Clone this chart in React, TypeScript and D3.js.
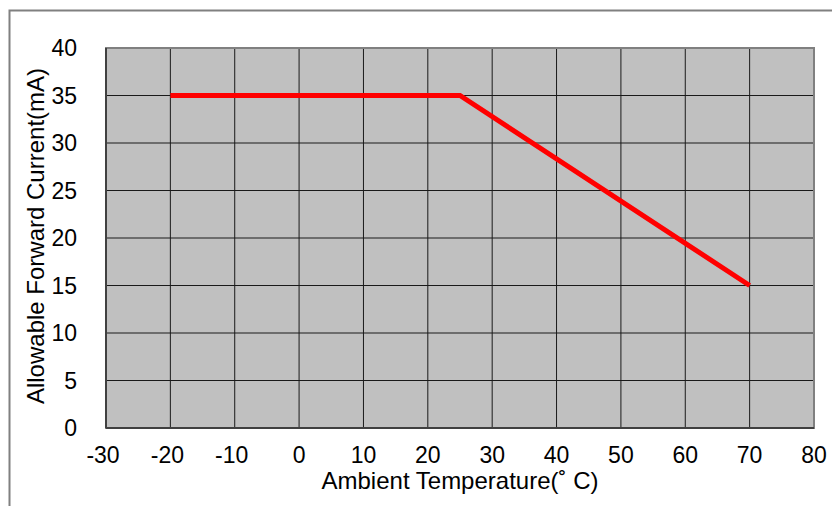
import * as d3 from "d3";
import { useEffect } from "react";

const WIDTH = 832;
const HEIGHT = 506;
const MARGIN = { top: 48, right: 18, bottom: 78, left: 106 };

const X_TICKS = [-30, -20, -10, 0, 10, 20, 30, 40, 50, 60, 70, 80];
const Y_TICKS = [0, 5, 10, 15, 20, 25, 30, 35, 40];

// derating curve: temperature (°C) vs allowable current (mA)
const TEMPS = [-20, 25, 70];
const CURRENTS = [35, 35, 15];

const FONT = "Arial, 'Liberation Sans', sans-serif";

export default function App() {
  useEffect(() => {
    document.body.style.margin = "0";
  }, []);

  const innerWidth = WIDTH - MARGIN.left - MARGIN.right;
  const innerHeight = HEIGHT - MARGIN.top - MARGIN.bottom;

  const x = d3.scaleLinear().domain([-30, 80]).range([0, innerWidth]);
  const y = d3.scaleLinear().domain([0, 40]).range([innerHeight, 0]);

  const points = TEMPS.map((t, i) => [t, CURRENTS[i]] as [number, number]);
  const line = d3
    .line<[number, number]>()
    .x((d) => x(d[0]))
    .y((d) => y(d[1]));

  return (
    <svg
      width={WIDTH}
      height={HEIGHT}
      style={{ display: "block", background: "#fff" }}
    >
      {/* outer frame, cut off at right/bottom */}
      <rect
        x={9.5}
        y={10.5}
        width={WIDTH}
        height={HEIGHT}
        fill="none"
        stroke="#808080"
        strokeWidth={2}
      />

      <g transform={`translate(${MARGIN.left}, ${MARGIN.top})`}>
        <rect x={0} y={0} width={innerWidth} height={innerHeight} fill="#c0c0c0" />

        {X_TICKS.slice(1, -1).map((t) => (
          <line
            key={`gx-${t}`}
            x1={x(t)}
            x2={x(t)}
            y1={0}
            y2={innerHeight}
            stroke="#1a1a1a"
            strokeWidth={1}
          />
        ))}
        {Y_TICKS.slice(1, -1).map((t) => (
          <line
            key={`gy-${t}`}
            x1={0}
            x2={innerWidth}
            y1={y(t)}
            y2={y(t)}
            stroke="#1a1a1a"
            strokeWidth={1}
          />
        ))}

        <rect
          x={0}
          y={0}
          width={innerWidth}
          height={innerHeight}
          fill="none"
          stroke="#808080"
          strokeWidth={2}
        />
        <line x1={0} x2={0} y1={0} y2={innerHeight} stroke="#404040" strokeWidth={2} />
        <line
          x1={0}
          x2={innerWidth}
          y1={innerHeight}
          y2={innerHeight}
          stroke="#404040"
          strokeWidth={2}
        />

        <path
          d={line(points) ?? ""}
          fill="none"
          stroke="#ff0000"
          strokeWidth={5}
          strokeLinejoin="miter"
        />

        {Y_TICKS.map((t) => (
          <text
            key={`ly-${t}`}
            x={-29}
            y={y(t)}
            dy="0.36em"
            textAnchor="end"
            style={{ font: `23px ${FONT}` }}
            fill="#000"
          >
            {t}
          </text>
        ))}
        {X_TICKS.map((t) => (
          <text
            key={`lx-${t}`}
            x={x(t) - (t < 0 ? 3 : 0)}
            y={innerHeight + 35}
            textAnchor="middle"
            style={{ font: `23px ${FONT}` }}
            fill="#000"
          >
            {t}
          </text>
        ))}

        <text
          x={innerWidth / 2}
          y={innerHeight + 61}
          textAnchor="middle"
          style={{ font: `24px ${FONT}` }}
          fill="#000"
        >
          Ambient Temperature(˚ C)
        </text>
        <text
          transform={`translate(${44 - MARGIN.left}, ${innerHeight / 2 - 2}) rotate(-90)`}
          textAnchor="middle"
          style={{ font: `24px ${FONT}` }}
          fill="#000"
        >
          Allowable Forward Current(mA)
        </text>
      </g>
    </svg>
  );
}
